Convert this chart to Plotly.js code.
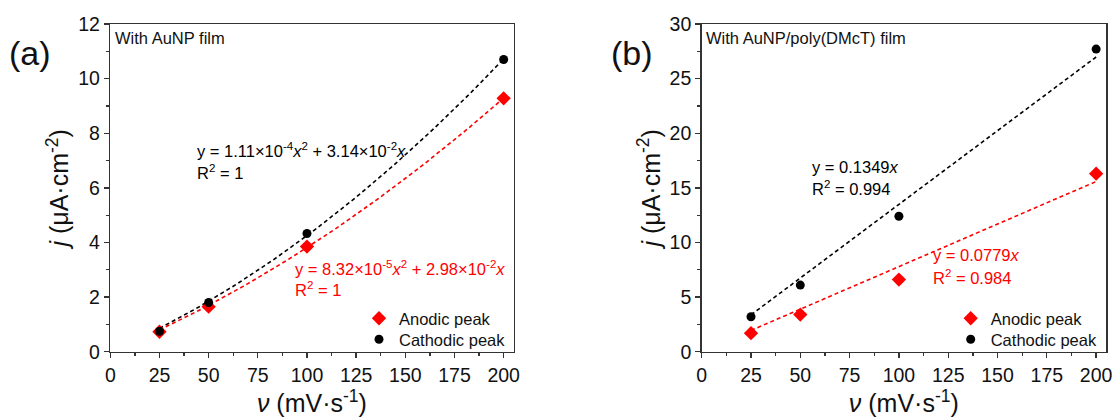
<!DOCTYPE html>
<html>
<head>
<meta charset="utf-8">
<script src="https://cdn.plot.ly/plotly-3.0.1.min.js"></script>
<style>html,body{margin:0;padding:0;background:#fff;}#chart{width:1116px;height:419px;}</style>
</head>
<body>
<div id="chart"></div>
<script>
// ---- data ----
const scanRates = [25, 50, 100, 200];
// Panel (a): with AuNP film
const anodicA = [0.73, 1.65, 3.85, 9.28];
const cathodicA = [0.75, 1.80, 4.33, 10.70];
// Panel (b): with AuNP/poly(DMcT) film
const anodicB = [1.70, 3.40, 6.60, 16.30];
const cathodicB = [3.20, 6.10, 12.40, 27.70];
// Fit coefficients printed on the chart: y = a*x^2 + b*x
const fitAnodicA = [8.32e-5, 2.98e-2];
const fitCathodicA = [1.11e-4, 3.14e-2];
const fitAnodicB = [0, 0.0779];
const fitCathodicB = [0, 0.1349];
const xTicks = [0, 25, 50, 75, 100, 125, 150, 175, 200];

// ---- helpers ----
const fitX = [];
for (let v = 25; v <= 200; v += 2.5) fitX.push(v);
const evalFit = c => fitX.map(v => c[0] * v * v + c[1] * v);

const RED = '#ff0000', BLK = '#000000';
const FONT = 'Arial, "Liberation Sans", sans-serif';
const W = 1116, H = 419;
const px = v => v / W;
const py = v => (H - v) / H;

function fitTrace(c, color, xa, ya) {
  return {x: fitX, y: evalFit(c), mode: 'lines', xaxis: xa, yaxis: ya, showlegend: false,
    line: {color: color, width: 1.6, dash: '4px,3px'}, hoverinfo: 'skip'};
}
function ptTrace(y, name, color, sym, size, xa, ya, leg) {
  return {x: scanRates, y: y, mode: 'markers', name: name, xaxis: xa, yaxis: ya, legend: leg,
    marker: {color: color, symbol: sym, size: size}};
}

const traces = [
  fitTrace(fitCathodicA, BLK, 'x', 'y'),
  fitTrace(fitAnodicA, RED, 'x', 'y'),
  ptTrace(anodicA, 'Anodic peak', RED, 'diamond', 11, 'x', 'y', 'legend'),
  ptTrace(cathodicA, 'Cathodic peak', BLK, 'circle', 9, 'x', 'y', 'legend2'),
  fitTrace(fitCathodicB, BLK, 'x2', 'y2'),
  fitTrace(fitAnodicB, RED, 'x2', 'y2'),
  ptTrace(anodicB, 'Anodic peak', RED, 'diamond', 11, 'x2', 'y2', 'legend3'),
  ptTrace(cathodicB, 'Cathodic peak', BLK, 'circle', 9, 'x2', 'y2', 'legend4')
];

const yDom = [py(351.7), py(24)];
function xAxis(dom) {
  return {domain: dom, range: [0, 205], tickvals: xTicks, ticks: 'outside', ticklen: 5, tickwidth: 1.3,
    tickcolor: '#333', showline: true, linecolor: '#333', linewidth: 1.5, mirror: true,
    showgrid: false, zeroline: false, tickfont: {size: 19.5, family: FONT, color: '#111'},
    minor: {dtick: 12.5, tick0: 0, ticks: 'outside', ticklen: 3, tickcolor: '#333', showgrid: false},
    title: {text: '<i>ν</i> (mV·s<sup>-1</sup>)', font: {size: 25, family: FONT, color: '#111'}, standoff: 4}};
}
function yAxis(dom, anchor, rng, dt) {
  return {domain: dom, anchor: anchor, range: rng, dtick: dt, ticks: 'outside', ticklen: 5, tickwidth: 1.3,
    tickcolor: '#333', showline: true, linecolor: '#333', linewidth: 1.5, mirror: true,
    showgrid: false, zeroline: false, tickfont: {size: 19.5, family: FONT, color: '#111'},
    minor: {dtick: dt / 2, ticks: 'outside', ticklen: 3, tickcolor: '#333', showgrid: false},
    title: {text: '<i>j</i> (μA·cm<sup>-2</sup>)', font: {size: 25, family: FONT, color: '#111'}, standoff: 2}};
}
function legendAt(xpx, ytop) {
  return {x: px(xpx), y: py(ytop), xanchor: 'left', yanchor: 'top', bgcolor: 'rgba(0,0,0,0)',
    font: {size: 16.5, family: FONT, color: '#111'}, itemwidth: 30};
}

function ann(text, xref, yref, x, y, color, size, anchor) {
  return {text: text, xref: xref, yref: yref, x: x, y: y, xanchor: anchor || 'left', yanchor: 'middle',
    showarrow: false, font: {size: size, family: FONT, color: color}};
}

const layout = {
  width: W, height: H, margin: {l: 0, r: 0, t: 0, b: 0},
  paper_bgcolor: '#fff', plot_bgcolor: '#fff',
  font: {family: FONT},
  xaxis: Object.assign(xAxis([px(110.3), px(513.5)]), {anchor: 'y'}),
  yaxis: yAxis(yDom, 'x', [0, 12], 2),
  xaxis2: Object.assign(xAxis([px(701.7), px(1106)]), {anchor: 'y2'}),
  yaxis2: yAxis(yDom, 'x2', [0, 30], 5),
  legend: legendAt(359, 301),
  legend2: legendAt(359, 322),
  legend3: legendAt(950.7, 301),
  legend4: legendAt(950.7, 322),
  annotations: [
    ann('(a)', 'paper', 'paper', px(7), py(53), '#111', 34),
    ann('(b)', 'paper', 'paper', px(609), py(53), '#111', 34),
    ann('With AuNP film', 'x', 'y', 1.2, 11.5, '#111', 16.5),
    ann('y = 1.11×10<sup>-4</sup><i>x</i><sup>2</sup> + 3.14×10<sup>-2</sup><i>x</i>', 'x', 'y', 43.1, 7.39, BLK, 16.5),
    ann('R<sup>2</sup> = 1', 'x', 'y', 43.1, 6.59, BLK, 16.5),
    ann('y = 8.32×10<sup>-5</sup><i>x</i><sup>2</sup> + 2.98×10<sup>-2</sup><i>x</i>', 'x', 'y', 93.0, 3.05, RED, 16.5),
    ann('R<sup>2</sup> = 1', 'x', 'y', 93.0, 2.28, RED, 16.5),
    ann('With AuNP/poly(DMcT) film', 'x2', 'y2', 1.2, 28.75, '#111', 16.5),
    ann('y = 0.1349<i>x</i>', 'x2', 'y2', 54.9, 16.94, BLK, 16.5),
    ann('R<sup>2</sup> = 0.994', 'x2', 'y2', 54.9, 14.96, BLK, 16.5),
    ann('y = 0.0779<i>x</i>', 'x2', 'y2', 116.1, 8.85, RED, 16.5),
    ann('R<sup>2</sup> = 0.984', 'x2', 'y2', 116.1, 6.87, RED, 16.5)
  ]
};

Plotly.newPlot('chart', traces, layout, {displayModeBar: false, staticPlot: true});
</script>
</body>
</html>
